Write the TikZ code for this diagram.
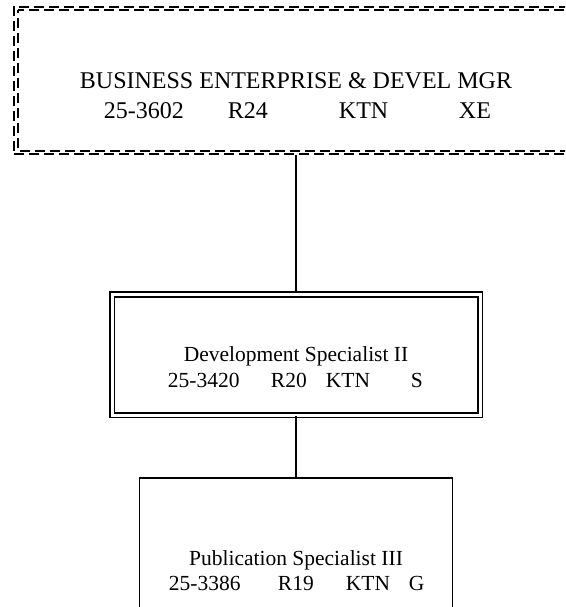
\documentclass[tikz,border=0pt]{standalone}
\usepackage{fontspec}
\setmainfont{Liberation Serif}
\usetikzlibrary{positioning,calc}

\begin{document}
\begin{tikzpicture}[x=1pt,y=-1pt,line width=1.9pt,
    unitbox/.style={draw,rectangle,inner sep=0pt},
    dashbox/.style={dash pattern=on 10pt off 5pt},
    dblbox/.style={unitbox,double,double distance=3pt},
    title/.style={anchor=base,inner sep=0pt},
    field/.style={anchor=base west,inner sep=0pt},
    bigfont/.style={font=\fontsize{24}{28}\selectfont},
    midfont/.style={font=\fontsize{21.5}{26}\selectfont}]
    \useasboundingbox (0,0) rectangle (565,607);
    \clip (0,0) rectangle (565,607);

    % manager (runs off the right edge)
    \node[unitbox,dashbox,minimum width=564pt,minimum height=147.3pt] (mgr) at (296,80.35) {};
    \draw[dashbox,dash phase=7pt] ($(mgr.north west)+(5,4.3)$) rectangle ($(mgr.south east)+(-5,-4)$);
    \node[title,bigfont] (mgrname) at (296,89) {BUSINESS ENTERPRISE \& DEVEL MGR};
    \node[field,bigfont] (mgrcode) at (103,118) {25-3602};
    \node[field,bigfont] (mgrrange) at (227,118) {R24};
    \node[field,bigfont] (mgrloc) at (338,118) {KTN};
    \node[field,bigfont] (mgrclass) at (458,118) {XE};

    % development specialist
    \node[dblbox,minimum width=368pt,minimum height=120.8pt] (dev) at (296,354.6) {};
    \node[title,midfont] (devname) at (296,361) {Development Specialist II};
    \node[field,midfont] (devcode) at (167,387.7) {25-3420};
    \node[field,midfont] (devrange) at (270,387.7) {R20};
    \node[field,midfont] (devloc) at (325,387.7) {KTN};
    \node[field,midfont] (devclass) at (410,387.7) {S};

    % publication specialist (runs off the bottom edge)
    \node[unitbox,minimum width=313pt,minimum height=142pt] (pub) at (296,549) {};
    \node[title,midfont] (pubname) at (296,565) {Publication Specialist III};
    \node[field,midfont] (pubcode) at (168,590) {25-3386};
    \node[field,midfont] (pubrange) at (277,590) {R19};
    \node[field,midfont] (publoc) at (345,590) {KTN};
    \node[field,midfont] (pubclass) at (408,590) {G};

    \draw (mgr.south) -- (dev.north);
    \draw (dev.south) -- (pub.north);
\end{tikzpicture}
\end{document}
